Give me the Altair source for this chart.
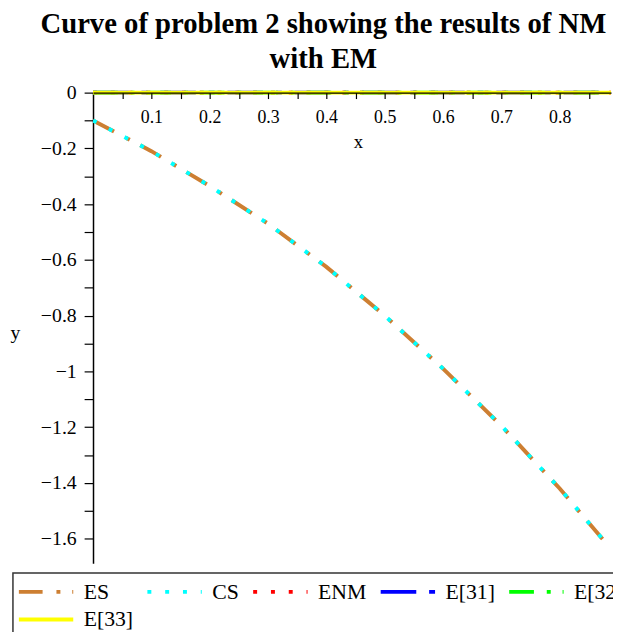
import altair as alt
import pandas as pd

# ---- data ----
series_names = ["ES", "CS", "ENM", "E[31]", "E[32]", "E[33]"]
series_colors = ["#CD7F32", "#00FFFF", "#FF0000", "#0000FF", "#00FF00", "#FFFF00"]
series_dashes = [[24, 14, 4, 12], [4, 14], [4, 14], [36, 13, 6, 13], [25, 13, 4, 12], [1, 0]]

x_curve = [0.0, 0.1, 0.2, 0.3, 0.4, 0.5, 0.6, 0.7, 0.8, 0.885]
es_y = [-0.10, -0.21, -0.335, -0.47, -0.625, -0.80, -0.99, -1.195, -1.42, -1.63]
cs_y = [-0.10, -0.21, -0.335, -0.47, -0.625, -0.80, -0.99, -1.195, -1.42, -1.63]

x_err = [0.0, 0.1, 0.2, 0.3, 0.4, 0.5, 0.6, 0.7, 0.8, 0.888]
enm_y = [0, 0, 0, 0, 0, 0, 0, 0, 0, 0]
e31_y = [0, 0, 0, 0, 0, 0, 0, 0, 0, 0]
e32_y = [0, 0, 0, 0, 0, 0, 0, 0, 0, 0]
e33_y = [0, 0, 0, 0, 0, 0, 0, 0, 0, 0]

x_ticks = [0.05, 0.1, 0.15, 0.2, 0.25, 0.3, 0.35, 0.4, 0.45, 0.5, 0.55, 0.6, 0.65, 0.7, 0.75, 0.8, 0.85]
y_ticks = [0, -0.1, -0.2, -0.3, -0.4, -0.5, -0.6, -0.7, -0.8, -0.9, -1.0, -1.1, -1.2, -1.3, -1.4, -1.5, -1.6]

title_lines = ["Curve of problem 2 showing the results of NM", "with EM"]

rows = []
for name, xs, ys in [
    ("ES", x_curve, es_y),
    ("CS", x_curve, cs_y),
    ("ENM", x_err, enm_y),
    ("E[31]", x_err, e31_y),
    ("E[32]", x_err, e32_y),
    ("E[33]", x_err, e33_y),
]:
    for xv, yv in zip(xs, ys):
        rows.append({"series": name, "x": xv, "y": yv})
df = pd.DataFrame(rows)

W, H = 524, 476
SERIF = "Liberation Serif"

x_enc = alt.X(
    "x:Q",
    scale=alt.Scale(domain=[0, 0.888], nice=False, zero=False),
    axis=alt.Axis(
        orient="bottom", offset=-H, values=x_ticks, zindex=1,
        labelExpr="round(datum.value*20) % 2 == 0 ? format(datum.value, '.1f') : ''",
        tickSize=6, labelPadding=10, labelFont=SERIF, labelFontSize=18,
        labelColor="black", labelFlush=False, labelOverlap=False,
        domainColor="black", domainWidth=1.2, tickColor="black", tickWidth=1.2,
        grid=False, title="x", titleFont=SERIF, titleFontSize=19,
        titleFontWeight="normal", titleColor="black", titleX=268, titleY=50,
        titleBaseline="middle", titleAlign="center",
    ),
)
y_enc = alt.Y(
    "y:Q",
    scale=alt.Scale(domain=[-1.688, 0], nice=False, zero=False),
    axis=alt.Axis(
        values=y_ticks,
        labelExpr="round(datum.value*10) % 2 == 0 ? format(datum.value, '~g') : ''",
        tickSize=9, labelPadding=8, labelFont=SERIF, labelFontSize=20,
        labelColor="black", labelFlush=False, labelOverlap=False,
        domainColor="black", domainWidth=1.5, tickColor="black", tickWidth=1.2,
        grid=False, title="y", titleFont=SERIF, titleFontSize=20,
        titleFontWeight="normal", titleColor="black", titleAngle=0,
        titleX=-79, titleY=243, titleBaseline="middle", titleAlign="center",
    ),
)
leg = alt.Legend(title=None, orient="none", legendX=-81, legendY=486,
                 direction="horizontal", columns=5)
color_enc = alt.Color("series:N", scale=alt.Scale(domain=series_names, range=series_colors), legend=leg)
dash_enc = alt.StrokeDash("series:N", scale=alt.Scale(domain=series_names, range=series_dashes), legend=leg)

layers = []
for name in series_names:
    layers.append(
        alt.Chart(df)
        .transform_filter(alt.datum.series == name)
        .mark_line(strokeWidth=4, clip=(name in ("ES", "CS")), strokeCap="butt")
        .encode(x=x_enc, y=y_enc, color=color_enc, strokeDash=dash_enc)
    )

chart = (
    alt.layer(*layers)
    .properties(
        width=W, height=H,
        title=alt.TitleParams(
            text=title_lines, font=SERIF, fontSize=29, fontWeight="bold",
            color="black", anchor="middle", dx=-29, offset=9, lineHeight=35.6,
        ),
        padding={"left": 86, "top": 82, "right": 2, "bottom": 66},
        autosize=alt.AutoSizeParams(type="none"),
    )
    .configure_view(strokeWidth=0)
    .configure_legend(
        strokeColor="#333333", strokeWidth=1.5, fillColor="white", padding=6,
        symbolType="M-2.5,0H2.5", symbolSize=484, symbolStrokeWidth=4,
        symbolOffset=14.5,
        labelFont=SERIF, labelFontSize=22, labelColor="black", labelOffset=25,
        columnPadding=6, rowPadding=4, gridAlign="each", labelLimit=200,
    )
)

chart.save("out.html", embed_options={"renderer": "svg", "actions": False})
